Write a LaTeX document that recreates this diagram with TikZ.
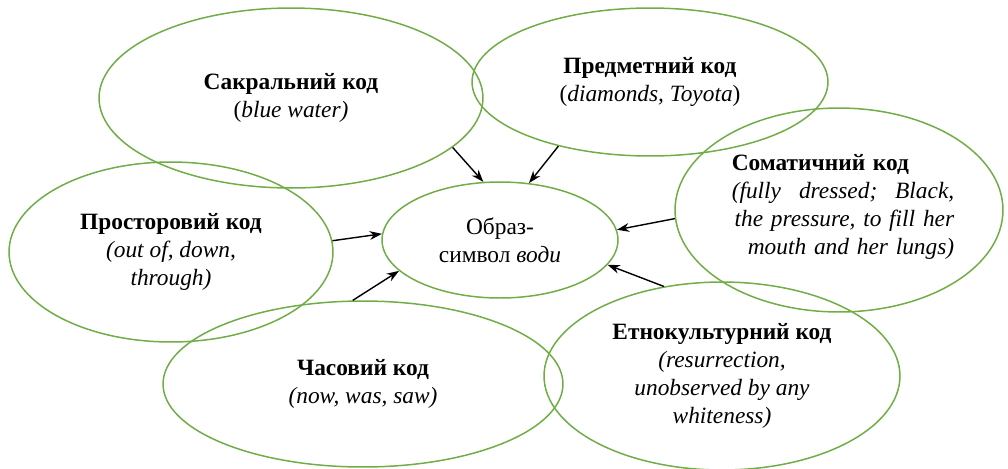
\documentclass[tikz,border=0pt]{standalone}
\usepackage{fontspec}
\setmainfont{Liberation Serif}
\usepackage{tikz}
\usetikzlibrary{arrows.meta,shapes.geometric}
\definecolor{verde}{RGB}{112,173,71}
\tikzstyle{codigo}=[ellipse, draw=verde, line width=0.85pt,
                    inner sep=0pt, align=center,
                    font=\fontsize{13.3}{16}\selectfont]
\tikzstyle{flecha}=[-{Stealth[length=7pt,width=5pt]},
                    line width=0.8pt, black]

\begin{document}
\begin{tikzpicture}[x=0.02cm,y=-0.02cm]

        \useasboundingbox (0,0) rectangle (1008,468);

        % codigos
        \node[codigo, minimum width=7.68cm, minimum height=3.6cm] (sakral) at (291,98)
            {\textbf{Сакральний код}\\(\textit{blue water)}};
        \node[codigo, minimum width=7.12cm, minimum height=2.96cm] (predmet) at (650,82)
            {\textbf{Предметний код}\\(\textit{diamonds, Toyota})};
        \node[codigo, minimum width=6.48cm, minimum height=3.6cm] (prostir) at (171,252)
            {\textbf{Просторовий код}\\\textit{(out of, down,}\\\textit{through)}};
        \node[codigo, minimum width=8cm, minimum height=3.32cm] (chas) at (363,384)
            {\textbf{Часовий код}\\\textit{(now, was, saw)}};
        \node[codigo, minimum width=6.56cm, minimum height=4.08cm] (soma) at (839,210) {};
        \node[text width=4.45cm, align=left, inner sep=0pt,
              font=\fontsize{13.3}{16}\selectfont] (somatext) at (843,207)
            {\textbf{Соматичний код}\\
             \textit{(fully\hfill dressed;\hfill Black,}\\
             \hspace*{\fill}\textit{the pressure, to fill her}\\
             \hspace*{\fill}\textit{mouth and her lungs)}};
        \node[codigo, minimum width=7.12cm, minimum height=3.76cm] (etno) at (722,376)
            {\textbf{Етнокультурний код}\\\textit{(resurrection,}\\
             \textit{unobserved by any}\\\textit{whiteness)}};

        % centro
        \node[codigo, minimum width=4.72cm, minimum height=2.32cm] (voda) at (500,240)
            {Образ-\\символ \textit{води}};

        % flechas
        \foreach \a/\i/\j in {sakral/-17/106, predmet/215/63, prostir/4/177,
                              chas/97/197, soma/183/5, etno/123/-13}
            \draw [flecha] (\a.\i) -- (voda.\j);

\end{tikzpicture}
\end{document}
